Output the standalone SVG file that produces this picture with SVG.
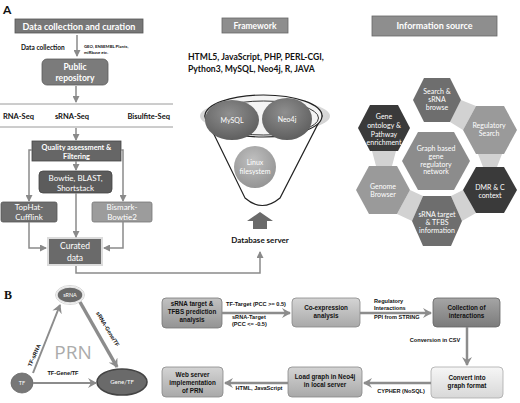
<svg xmlns="http://www.w3.org/2000/svg" width="520" height="403" viewBox="0 0 520 403">
<defs>
<marker id="ah" markerWidth="7" markerHeight="7" refX="6" refY="3.5" orient="auto" markerUnits="userSpaceOnUse"><path d="M0,0 L7,3.5 L0,7 z" fill="#8a8a8a"/></marker>
<marker id="ahB" markerWidth="10" markerHeight="10" refX="8" refY="5" orient="auto" markerUnits="userSpaceOnUse"><path d="M0,0 L9,5 L0,10 L3,5 z" fill="#8c8c8c"/></marker>
<linearGradient id="gMid" x1="0" y1="0" x2="0" y2="1"><stop offset="0" stop-color="#c2c2c2"/><stop offset="1" stop-color="#939393"/></linearGradient>
<linearGradient id="gLight" x1="0" y1="0" x2="0" y2="1"><stop offset="0" stop-color="#d4d4d4"/><stop offset="1" stop-color="#a9a9a9"/></linearGradient>
<linearGradient id="gDark" x1="0" y1="0" x2="0" y2="1"><stop offset="0" stop-color="#a5a5a5"/><stop offset="1" stop-color="#7b7b7b"/></linearGradient>
<linearGradient id="gPale" x1="0" y1="0" x2="0" y2="1"><stop offset="0" stop-color="#f6f6f6"/><stop offset="1" stop-color="#d8d8d8"/></linearGradient>
<radialGradient id="gEll" cx="0.5" cy="0.4" r="0.6"><stop offset="0" stop-color="#f2f2f2"/><stop offset="1" stop-color="#cfcfcf"/></radialGradient>
<radialGradient id="gDb" cx="0.45" cy="0.35" r="0.65"><stop offset="0" stop-color="#8f8f8f"/><stop offset="1" stop-color="#5f5f5f"/></radialGradient>
<radialGradient id="gLx" cx="0.45" cy="0.35" r="0.65"><stop offset="0" stop-color="#c0c0c0"/><stop offset="1" stop-color="#959595"/></radialGradient>
</defs>
<style>
.f{font-family:Lato,"Open Sans","Liberation Sans",sans-serif}
.w{fill:#fff}
.k{fill:#111}
.bd{font-weight:bold}
.m{text-anchor:middle}
.cn{fill:none;stroke:#8a8a8a;stroke-width:1.5}
.cb{fill:none;stroke:#8c8c8c;stroke-width:2.5}
.bt{font-family:"Liberation Sans",Arial,sans-serif;font-weight:bold;font-size:6.3px;fill:#111;text-anchor:middle}
.lt{font-family:"Liberation Sans",Arial,sans-serif;font-weight:bold;font-size:5.6px;fill:#111}
.hx{font-family:Lato,"Open Sans",sans-serif;font-size:7px;fill:#fff;text-anchor:middle}
.bx{stroke-width:0.8}
</style>

<!-- panel labels -->
<text x="3" y="14" class="f bd k" font-size="12">A</text>
<text x="4" y="299" font-family="'Liberation Serif',serif" font-weight="bold" font-size="12" fill="#111">B</text>

<!-- ===== Panel A: data collection ===== -->
<g id="hdr-data">
<rect x="15" y="19" width="128" height="14" fill="#777" stroke="#555" class="bx"/>
<text x="79" y="29.5" class="f bd w m" font-size="9">Data collection and curation</text>
</g>
<g id="lbl-datacollection">
<text x="21" y="50" class="f bd k" font-size="6.5">Data collection</text>
<text x="84" y="48" class="f bd k" font-size="4.3">GEO, ENSEMBL Plants,</text>
<text x="84" y="53.5" class="f bd k" font-size="4.3">miRbase etc.</text>
</g>
<g id="node-public">
<rect x="42" y="59" width="66" height="26" rx="5" fill="#7b7b7b" stroke="#5a5a5a" class="bx"/>
<text x="75" y="70" class="f bd w m" font-size="8.5">Public</text>
<text x="75" y="81" class="f bd w m" font-size="8.5">repository</text>
</g>
<g id="node-seq">
<line x1="0" y1="104" x2="173" y2="104" stroke="#9a9a9a" stroke-width="1"/>
<line x1="0" y1="127" x2="173" y2="127" stroke="#9a9a9a" stroke-width="1"/>
<text x="3" y="119" class="f bd k" font-size="7.5">RNA-Seq</text>
<text x="72" y="119" class="f bd k m" font-size="7.5">sRNA-Seq</text>
<text x="170" y="119" class="f bd k" font-size="7.5" text-anchor="end">Bisulfite-Seq</text>
</g>
<g id="node-quality">
<rect x="32" y="141" width="89" height="20" fill="#666" stroke="#444" class="bx"/>
<text x="76.5" y="149.5" class="f bd w m" font-size="7.3">Quality assessment &amp;</text>
<text x="76.5" y="158.5" class="f bd w m" font-size="7.3">Filtering</text>
</g>
<g id="node-bowtie">
<rect x="39" y="171" width="73" height="22" rx="4" fill="#5c5c5c" stroke="#444" class="bx"/>
<text x="75.5" y="180.5" class="f w m" font-size="8">Bowtie, BLAST,</text>
<text x="75.5" y="190.5" class="f w m" font-size="8">Shortstack</text>
</g>
<g id="node-tophat">
<rect x="1" y="202" width="56" height="20" rx="2" fill="#6e6e6e" stroke="#555" class="bx"/>
<text x="29" y="210" class="f w m" font-size="8">TopHat-</text>
<text x="29" y="220" class="f w m" font-size="8">Cufflink</text>
</g>
<g id="node-bismark">
<rect x="92" y="202" width="60" height="20" rx="2" fill="#9c9c9c" stroke="#777" class="bx"/>
<text x="122" y="210" class="f w m" font-size="8">Bismark-</text>
<text x="122" y="220" class="f w m" font-size="8">Bowtie2</text>
</g>
<g id="node-curated">
<rect x="48" y="238" width="54" height="27" fill="#6a6a6a" stroke="#dcdcdc" stroke-width="2"/>
<text x="75" y="249" class="f w m" font-size="8.5">Curated</text>
<text x="75" y="261" class="f w m" font-size="8.5">data</text>
</g>

<!-- ===== Panel A: framework ===== -->
<g id="hdr-framework">
<rect x="222" y="18" width="66" height="15" fill="#8e8e8e" stroke="#666" class="bx"/>
<text x="255" y="28.5" class="f bd w m" font-size="8.5">Framework</text>
</g>
<g id="lbl-tech">
<text x="188" y="60" class="f bd k" font-size="8.6">HTML5, JavaScript, PHP, PERL-CGI,</text>
<text x="188" y="72" class="f bd k" font-size="8.6">Python3, MySQL, Neo4j, R, JAVA</text>
</g>
<g id="node-funnel">
<ellipse cx="265" cy="116" rx="65" ry="17" fill="url(#gEll)"/>
<path d="M205,116 L245,198 Q262,213 280,198 L322,116 Z" fill="#fff" stroke="#222" stroke-width="1.2"/>
<ellipse cx="263.5" cy="116" rx="58.5" ry="21" fill="#f4f4f4" stroke="#222" stroke-width="1.2"/>
<ellipse cx="263.5" cy="118" rx="55" ry="17" fill="none" stroke="#222" stroke-width="0.9"/>
</g>
<g id="node-mysql">
<ellipse cx="232" cy="120" rx="27" ry="20" fill="url(#gDb)"/>
<text x="232" y="122.5" class="f w m" font-size="7">MySQL</text>
</g>
<g id="node-neo4j">
<ellipse cx="287" cy="119" rx="25" ry="21" fill="url(#gDb)"/>
<text x="287" y="121.5" class="f w m" font-size="7">Neo4j</text>
</g>
<g id="node-linux">
<circle cx="255" cy="167" r="21" fill="url(#gLx)"/>
<text x="255" y="165" class="f w m" font-size="7">Linux</text>
<text x="255" y="174" class="f w m" font-size="7">filesystem</text>
</g>
<g id="node-dbserver">
<polygon points="260,212 273,221 267,221 267,229 253,229 253,221 247,221" fill="#6a6a6a"/>
<text x="260" y="243" class="f bd k m" font-size="8">Database server</text>
</g>

<!-- ===== Panel A: information source ===== -->
<g id="hdr-info">
<rect x="372" y="16" width="125" height="20" fill="#8e8e8e" stroke="#666" class="bx"/>
<text x="434.5" y="29" class="f bd w m" font-size="9">Information source</text>
</g>
<g id="hex-links" fill="#d2d2d2">
<polygon points="461,100 476,106 463,130 450,122"/>
<polygon points="478,154 502,154 497,167 483,167"/>
<polygon points="463,190 476,213 462,221 451,196"/>
<polygon points="423,196 412,221 397,214 410,190"/>
<polygon points="372,151 396,151 392,166 376,166"/>
</g>
<g id="hex-search">
<polygon points="424,78 450,78 461,100 450,122 424,122 413,100" fill="#6e6e6e"/>
<text x="437" y="94" class="hx">Search &amp;</text>
<text x="437" y="102" class="hx">sRNA</text>
<text x="437" y="110" class="hx">browse</text>
</g>
<g id="hex-go">
<polygon points="370,105 398,105 410,128 398,151 370,151 358,128" fill="#3a3a3a"/>
<text x="384" y="119" class="hx" font-size="7.8">Gene</text>
<text x="384" y="128" class="hx" font-size="7.8">ontology &amp;</text>
<text x="384" y="136.5" class="hx" font-size="7.8">Pathway</text>
<text x="384" y="145" class="hx" font-size="7.8">enrichment</text>
</g>
<g id="hex-regulatory">
<polygon points="476,106 504,106 517,130 504,154 476,154 463,130" fill="#9a9a9a"/>
<text x="489" y="128" class="hx">Regulatory</text>
<text x="489" y="136" class="hx">Search</text>
</g>
<g id="hex-graph">
<polygon points="418,132 454,132 470,161 454,190 418,190 402,161" fill="#8c8c8c"/>
<text x="436" y="151" class="hx">Graph based</text>
<text x="436" y="159" class="hx">gene</text>
<text x="436" y="166.5" class="hx">regulatory</text>
<text x="436" y="174" class="hx">network</text>
</g>
<g id="hex-genome">
<polygon points="369,166 397,166 410,190 397,214 369,214 356,190" fill="#9a9a9a"/>
<text x="383" y="189" class="hx">Genome</text>
<text x="383" y="197" class="hx">Browser</text>
</g>
<g id="hex-dmr">
<polygon points="476,167 504,167 517,190 504,213 476,213 463,190" fill="#3a3a3a"/>
<text x="490" y="190" class="hx">DMR &amp; C</text>
<text x="490" y="198" class="hx">context</text>
</g>
<g id="hex-srna">
<polygon points="423,196 451,196 462,221 451,246 423,246 412,221" fill="#6e6e6e"/>
<text x="437" y="217" class="hx">sRNA target</text>
<text x="437" y="225" class="hx">&amp; TFBS</text>
<text x="437" y="232.5" class="hx">information</text>
</g>

<!-- ===== Panel B ===== -->
<g id="prn-label">
<text x="73" y="359" font-family="'Open Sans',Lato,sans-serif" font-size="19" fill="#ababab" text-anchor="middle">PRN</text>
</g>
<g id="node-srna-prn">
<ellipse cx="70" cy="295" rx="14.5" ry="9.5" fill="none" stroke="#bdbdbd" stroke-width="0.6"/>
<ellipse cx="70" cy="295" rx="13" ry="8" fill="#6a6a6a" stroke="#e6e6e6" stroke-width="1.5"/>
<text x="70" y="297" class="f w m" font-size="5.5">sRNA</text>
</g>
<g id="node-tf-prn">
<ellipse cx="22" cy="383" rx="11" ry="10" fill="#777" stroke="#666" stroke-width="0.8"/>
<text x="22" y="385" class="f w m" font-size="5.5">TF</text>
</g>
<g id="node-gene-prn">
<ellipse cx="122" cy="382" rx="25" ry="13" fill="#6a6a6a" stroke="#444" stroke-width="1.6"/>
<text x="122" y="384" class="f w m" font-size="6">Gene/TF</text>
</g>

<g id="node-b1">
<rect x="162" y="298" width="60" height="30" rx="4" fill="url(#gMid)" stroke="#777" class="bx"/>
<text x="192" y="306" class="bt">sRNA target &amp;</text>
<text x="192" y="314" class="bt">TFBS prediction</text>
<text x="192" y="322" class="bt">analysis</text>
</g>
<g id="node-b2">
<rect x="292" y="298" width="68" height="29" rx="4" fill="url(#gLight)" stroke="#888" class="bx"/>
<text x="326" y="310" class="bt">Co-expression</text>
<text x="326" y="318" class="bt">analysis</text>
</g>
<g id="node-b3">
<rect x="433" y="298" width="67" height="29" rx="4" fill="url(#gDark)" stroke="#666" class="bx"/>
<text x="466.5" y="310" class="bt">Collection of</text>
<text x="466.5" y="318" class="bt">interactions</text>
</g>
<g id="node-b4">
<rect x="431" y="367" width="72" height="31" rx="4" fill="url(#gPale)" stroke="#aaa" class="bx"/>
<text x="467" y="380" class="bt">Convert into</text>
<text x="467" y="388" class="bt">graph format</text>
</g>
<g id="node-b5">
<rect x="288" y="367" width="74" height="30" rx="4" fill="url(#gLight)" stroke="#888" class="bx"/>
<text x="325" y="379" class="bt">Load graph in Neo4j</text>
<text x="325" y="387" class="bt">in local server</text>
</g>
<g id="node-b6">
<rect x="162" y="367" width="61" height="30" rx="4" fill="url(#gLight)" stroke="#888" class="bx"/>
<text x="192.5" y="377" class="bt">Web server</text>
<text x="192.5" y="385" class="bt">implementation</text>
<text x="192.5" y="393" class="bt">of PRN</text>
</g>

<!-- ===== connectors ===== -->
<g id="connectors">
<path class="cn" d="M77,35 V56" marker-end="url(#ah)"/>
<path class="cn" d="M76,86 V102" marker-end="url(#ah)"/>
<path class="cn" d="M76,128 V140" marker-end="url(#ah)"/>
<path class="cn" d="M76,161 V170" marker-end="url(#ah)"/>
<path class="cn" d="M32,150 H29 V201" marker-end="url(#ah)"/>
<path class="cn" d="M121,150 H123 V201" marker-end="url(#ah)"/>
<path class="cn" d="M76,193 V237" marker-end="url(#ah)"/>
<path class="cn" d="M29,222 V248 H46" marker-end="url(#ah)"/>
<path class="cn" d="M123,222 V248 H104" marker-end="url(#ah)"/>
<path class="cn" d="M76,266 V273 H260 V252" marker-end="url(#ah)"/>

<path d="M33,373 L60,305" fill="none" stroke="#8c8c8c" stroke-width="2" marker-end="url(#ahB)"/>
<path d="M33,383 L96,383" fill="none" stroke="#8c8c8c" stroke-width="2" marker-end="url(#ahB)"/>
<path d="M80,302 L117,367" fill="none" stroke="#8c8c8c" stroke-width="3.5" marker-end="url(#ahB)"/>
<text class="lt" transform="translate(36,356) rotate(-66)" text-anchor="middle">TF-sRNA</text>
<text class="lt" transform="translate(106,330) rotate(59)" text-anchor="middle">sRNA-Gene/TF</text>
<text class="lt" x="63" y="375" text-anchor="middle">TF-Gene/TF</text>

<path class="cb" d="M222,313 H290" marker-end="url(#ahB)"/>
<text class="lt" x="256" y="306" text-anchor="middle">TF-Target (PCC &gt;= 0.5)</text>
<text class="lt" x="232" y="319">sRNA-Target</text>
<text class="lt" x="232" y="325.5">(PCC &lt;= -0.5)</text>

<path class="cb" d="M360,313 H431" marker-end="url(#ahB)"/>
<text class="lt" x="374" y="303">Regulatory</text>
<text class="lt" x="374" y="309.5">Interactions</text>
<text class="lt" x="374" y="319">PPI from STRING</text>

<path class="cb" d="M467,327 V365" marker-end="url(#ahB)"/>
<text class="lt" x="435" y="342" text-anchor="middle">Conversion in CSV</text>

<path class="cb" d="M431,383 H364" marker-end="url(#ahB)"/>
<text class="lt" x="401" y="393" text-anchor="middle">CYPHER (NoSQL)</text>

<path class="cb" d="M288,383 H225" marker-end="url(#ahB)"/>
<text class="lt" x="259" y="390" text-anchor="middle">HTML, JavaScript</text>
</g>
</svg>
